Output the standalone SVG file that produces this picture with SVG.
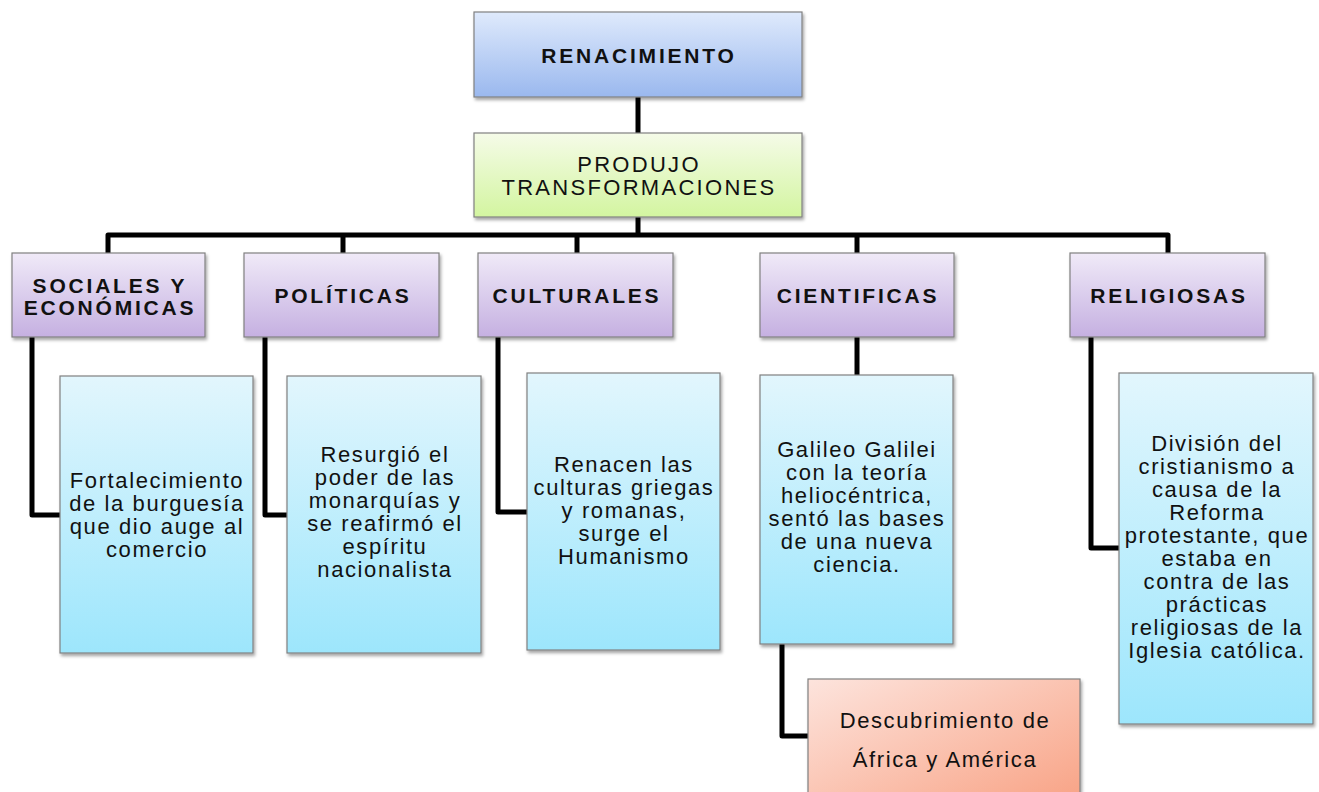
<svg xmlns="http://www.w3.org/2000/svg" width="1319" height="792" viewBox="0 0 1319 792">
<defs>
<linearGradient id="gBlue" x1="0" y1="0" x2="0" y2="1"><stop offset="0" stop-color="#dfeafc"/><stop offset="1" stop-color="#9ab8ee"/></linearGradient>
<linearGradient id="gGreen" x1="0" y1="0" x2="0" y2="1"><stop offset="0" stop-color="#f5fbe8"/><stop offset="1" stop-color="#d3f5a0"/></linearGradient>
<linearGradient id="gPurple" x1="0" y1="0" x2="0" y2="1"><stop offset="0" stop-color="#f0eaf8"/><stop offset="1" stop-color="#c5b0e1"/></linearGradient>
<linearGradient id="gCyan" x1="0" y1="0" x2="0" y2="1"><stop offset="0" stop-color="#e2f6fd"/><stop offset="1" stop-color="#9de6fc"/></linearGradient>
<linearGradient id="gOrange" x1="0" y1="0" x2="1" y2="1"><stop offset="0" stop-color="#fde4dd"/><stop offset="1" stop-color="#f8a183"/></linearGradient>
<filter id="sh" x="-10%" y="-10%" width="130%" height="130%"><feDropShadow dx="1.5" dy="2.5" stdDeviation="1.8" flood-color="#000" flood-opacity="0.35"/></filter>
<style>
.box{stroke:#808080;stroke-width:1.2;filter:url(#sh)}
.con{fill:none;stroke:#000;stroke-width:5;stroke-linejoin:round;stroke-linecap:butt}
.tb{font-family:"Liberation Sans",Arial,sans-serif;font-weight:bold;font-size:21px;letter-spacing:2.8px;fill:#111;text-anchor:middle}
.tr{font-family:"Liberation Sans",Arial,sans-serif;font-size:22px;letter-spacing:1.6px;fill:#111;text-anchor:middle}
.tp{letter-spacing:2.3px}
</style>
</defs>
<rect width="1319" height="792" fill="#fff"/>
<g id="connectors">
<path class="con" d="M638 97 V133"/>
<path class="con" d="M638 217 V235"/>
<path class="con" d="M108 253 V235 H1168 V253"/>
<path class="con" d="M343 235 V253"/>
<path class="con" d="M577 235 V253"/>
<path class="con" d="M857 235 V253"/>
<path class="con" d="M32 337 V515 H60"/>
<path class="con" d="M265 337 V515 H287"/>
<path class="con" d="M498 337 V512 H527"/>
<path class="con" d="M857 337 V375"/>
<path class="con" d="M1091 337 V548 H1119"/>
<path class="con" d="M782 644 V736 H808"/>
</g>
<g id="renacimiento">
<rect class="box" x="474" y="12" width="328" height="85" fill="url(#gBlue)"/>
<text class="tb" x="639" y="63">RENACIMIENTO</text>
</g>
<g id="produjo">
<rect class="box" x="474" y="133" width="328" height="84" fill="url(#gGreen)"/>
<text class="tr tp" x="639" y="172">PRODUJO</text>
<text class="tr tp" x="639" y="195">TRANSFORMACIONES</text>
</g>
<g id="sociales">
<rect class="box" x="12" y="253" width="193" height="84" fill="url(#gPurple)"/>
<text class="tb" x="110" y="293">SOCIALES Y</text>
<text class="tb" x="110" y="315">ECONÓMICAS</text>
</g>
<g id="politicas">
<rect class="box" x="244" y="253" width="195" height="84" fill="url(#gPurple)"/>
<text class="tb" x="343" y="303">POLÍTICAS</text>
</g>
<g id="culturales">
<rect class="box" x="478" y="253" width="195" height="84" fill="url(#gPurple)"/>
<text class="tb" x="577" y="303">CULTURALES</text>
</g>
<g id="cientificas">
<rect class="box" x="760" y="253" width="194" height="84" fill="url(#gPurple)"/>
<text class="tb" x="858" y="303">CIENTIFICAS</text>
</g>
<g id="religiosas">
<rect class="box" x="1070" y="253" width="195" height="84" fill="url(#gPurple)"/>
<text class="tb" x="1169" y="303">RELIGIOSAS</text>
</g>
<g id="leaf-sociales">
<rect class="box" x="60" y="376" width="193" height="277" fill="url(#gCyan)"/>
<text class="tr" x="157" y="488">Fortalecimiento</text>
<text class="tr" x="157" y="511">de la burguesía</text>
<text class="tr" x="157" y="534">que dio auge al</text>
<text class="tr" x="157" y="557">comercio</text>
</g>
<g id="leaf-politicas">
<rect class="box" x="287" y="376" width="194" height="277" fill="url(#gCyan)"/>
<text class="tr" x="385" y="462">Resurgió el</text>
<text class="tr" x="385" y="485">poder de las</text>
<text class="tr" x="385" y="508">monarquías y</text>
<text class="tr" x="385" y="531">se reafirmó el</text>
<text class="tr" x="385" y="554">espíritu</text>
<text class="tr" x="385" y="577">nacionalista</text>
</g>
<g id="leaf-culturales">
<rect class="box" x="527" y="373" width="193" height="277" fill="url(#gCyan)"/>
<text class="tr" x="624" y="472">Renacen las</text>
<text class="tr" x="624" y="495">culturas griegas</text>
<text class="tr" x="624" y="518">y romanas,</text>
<text class="tr" x="624" y="541">surge el</text>
<text class="tr" x="624" y="564">Humanismo</text>
</g>
<g id="leaf-cientificas">
<rect class="box" x="760" y="375" width="193" height="269" fill="url(#gCyan)"/>
<text class="tr" x="857" y="457">Galileo Galilei</text>
<text class="tr" x="857" y="480">con la teoría</text>
<text class="tr" x="857" y="503">heliocéntrica,</text>
<text class="tr" x="857" y="526">sentó las bases</text>
<text class="tr" x="857" y="549">de una nueva</text>
<text class="tr" x="857" y="572">ciencia.</text>
</g>
<g id="leaf-religiosas">
<rect class="box" x="1119" y="373" width="194" height="351" fill="url(#gCyan)"/>
<text class="tr" x="1217" y="451">División del</text>
<text class="tr" x="1217" y="474">cristianismo a</text>
<text class="tr" x="1217" y="497">causa de la</text>
<text class="tr" x="1217" y="520">Reforma</text>
<text class="tr" x="1217" y="543">protestante, que</text>
<text class="tr" x="1217" y="566">estaba en</text>
<text class="tr" x="1217" y="589">contra de las</text>
<text class="tr" x="1217" y="612">prácticas</text>
<text class="tr" x="1217" y="635">religiosas de la</text>
<text class="tr" x="1217" y="658">Iglesia católica.</text>
</g>
<g id="descubrimiento">
<rect class="box" x="808" y="679" width="272" height="130" fill="url(#gOrange)"/>
<text class="tr" x="945" y="728">Descubrimiento de</text>
<text class="tr" x="945" y="767">África y América</text>
</g>
</svg>
